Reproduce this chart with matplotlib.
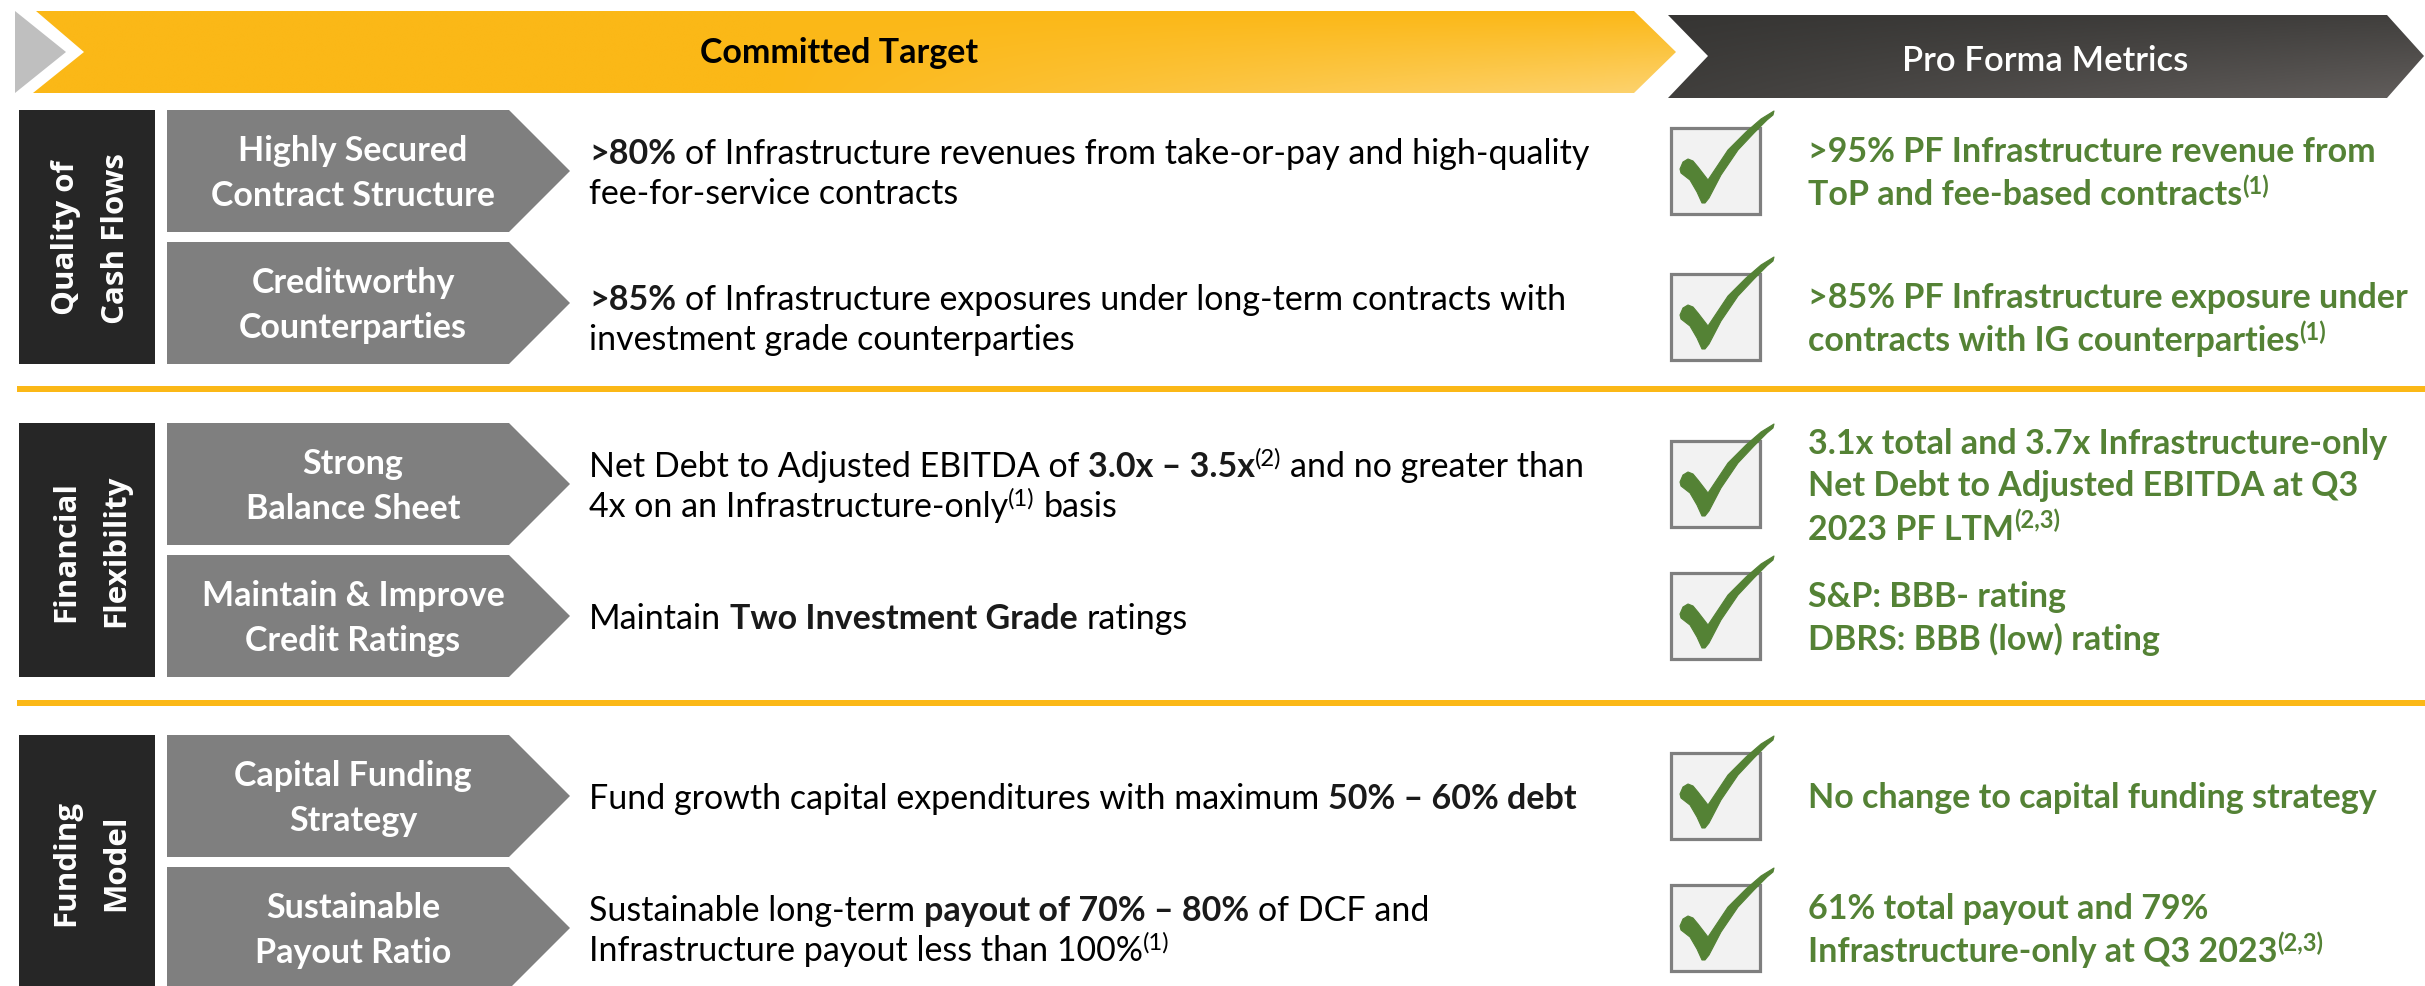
import matplotlib
matplotlib.use('Agg')

import matplotlib.pyplot as plt
from matplotlib.patches import Polygon, Rectangle
from matplotlib.colors import to_rgb
import numpy as np

W, H = 2425, 987
FONT = 'Lato'
SEC_FONT = 'Open Sans'

header_left = "Committed Target"
header_right = "Pro Forma Metrics"

sections = [["Quality of", "Cash Flows"],
            ["Financial", "Flexibility"],
            ["Funding", "Model"]]

pillars = [["Highly Secured", "Contract Structure"],
           ["Creditworthy", "Counterparties"],
           ["Strong", "Balance Sheet"],
           ["Maintain & Improve", "Credit Ratings"],
           ["Capital Funding", "Strategy"],
           ["Sustainable", "Payout Ratio"]]

# runs: (text, style)  n = regular, b = bold, s = superscript
targets = [
    [[(">80%", "b"), (" of Infrastructure revenues from take-or-pay and high-quality", "n")],
     [("fee-for-service contracts", "n")]],
    [[(">85%", "b"), (" of Infrastructure exposures under long-term contracts with", "n")],
     [("investment grade counterparties", "n")]],
    [[("Net Debt to Adjusted EBITDA of ", "n"), ("3.0x \u2013 3.5x", "b"), ("(2)", "s"), (" and no greater than", "n")],
     [("4x on an Infrastructure-only", "n"), ("(1)", "s"), (" basis", "n")]],
    [[("Maintain ", "n"), ("Two Investment Grade", "b"), (" ratings", "n")]],
    [[("Fund growth capital expenditures with maximum ", "n"), ("50% \u2013 60% debt", "b")]],
    [[("Sustainable long-term ", "n"), ("payout of 70% \u2013 80%", "b"), (" of DCF and", "n")],
     [("Infrastructure payout less than 100%", "n"), ("(1)", "s")]],
]

metrics = [
    [[(">95% PF Infrastructure revenue from", "n")],
     [("ToP and fee-based contracts", "n"), ("(1)", "s")]],
    [[(">85% PF Infrastructure exposure under", "n")],
     [("contracts with IG counterparties", "n"), ("(1)", "s")]],
    [[("3.1x total and 3.7x Infrastructure-only", "n")],
     [("Net Debt to Adjusted EBITDA at Q3", "n")],
     [("2023 PF LTM", "n"), ("(2,3)", "s")]],
    [[("S&P: BBB- rating", "n")],
     [("DBRS: BBB (low) rating", "n")]],
    [[("No change to capital funding strategy", "n")]],
    [[("61% total payout and 79%", "n")],
     [("Infrastructure-only at Q3 2023", "n"), ("(2,3)", "s")]],
]

YEL = '#FBB817'
GREEN = '#548235'
DARK = '#262626'
GREY = '#7F7F7F'

fig = plt.figure(figsize=(W / 100, H / 100), dpi=100)
ax = fig.add_axes([0, 0, 1, 1])
ax.set_xlim(0, W)
ax.set_ylim(H, 0)
ax.axis('off')
renderer = fig.canvas.get_renderer()

PX = 100 / 72.0


def text_w(s, size, weight):
    t = ax.text(0, 0, s, fontsize=size, weight=weight, family=FONT)
    w = t.get_window_extent(renderer).width
    t.remove()
    return w


def draw_runs(x, y, runs, size, color, bold_all=False, bold_color=None):
    for s, st in runs:
        weight = 'bold' if (bold_all or st == 'b') else 'normal'
        fs = size * 0.7 if st == 's' else size
        yy = y - size * PX * 0.33 if st == 's' else y
        c = bold_color if (st == 'b' and bold_color) else color
        sw = text_w("a a", fs, weight) - text_w("aa", fs, weight)
        lead = len(s) - len(s.lstrip(' '))
        trail = len(s) - len(s.rstrip(' '))
        x += lead * sw
        core = s.strip(' ')
        if core:
            t = ax.text(x, yy, core, fontsize=fs, weight=weight, family=FONT,
                        color=c, ha='left', va='baseline')
            x += t.get_window_extent(renderer).width
        x += trail * sw
    return x


def gradient_poly(points, c0, c1, tfunc, zorder=1):
    patch = Polygon(points, closed=True, facecolor='none', edgecolor='none', zorder=zorder)
    ax.add_patch(patch)
    xs = [p[0] for p in points]
    ys = [p[1] for p in points]
    x0, x1, y0, y1 = min(xs), max(xs), min(ys), max(ys)
    gx = np.linspace(0, 1, 600)[None, :]
    gy = np.linspace(0, 1, 80)[:, None]
    t = np.clip(tfunc(gx, gy), 0, 1)
    a, b = np.array(to_rgb(c0)), np.array(to_rgb(c1))
    img = (1 - t)[..., None] * a + t[..., None] * b
    im = ax.imshow(img, extent=(x0, x1, y1, y0), origin='upper', aspect='auto',
                   interpolation='bilinear', zorder=zorder)
    im.set_clip_path(patch)


# ---- header banner
ax.add_patch(Polygon([(15, 12), (66, 53), (15, 94)], closed=True,
                     facecolor='#BFBFBF', edgecolor='none'))
gradient_poly([(36, 12), (1634, 12), (1676, 53), (1634, 94), (33, 94), (84, 53)],
              YEL, '#FDD67A', lambda gx, gy: np.clip((gx - 0.45) / 0.55, 0, 1) * gy * 0.9)
gradient_poly([(1668, 16), (2387, 16), (2424, 57), (2387, 99), (1668, 99), (1708, 57)],
              '#363533', '#625E5C', lambda gx, gy: 0.25 * gx + 0.75 * gy * (0.3 + 0.7 * gx))
ax.text(839, 63, header_left, fontsize=24.5, weight='bold', family=FONT,
        color='black', ha='center', va='baseline')
ax.text(2045, 71, header_right, fontsize=25, weight='semibold', family=FONT,
        color='white', ha='center', va='baseline')

# ---- layout
sec_tops = [111, 424, 736]
ROW_H, ROW_GAP = 122, 10
row_offsets = [0, 14, 0, 0, 0, 0]
rows = []
for top in sec_tops:
    rows.append((top, top + ROW_H))
    rows.append((top + ROW_H + ROW_GAP, top + 2 * ROW_H + ROW_GAP))

for y in (390, 704):
    ax.plot([17, W], [y, y], color=YEL, lw=6 * 0.72, solid_capstyle='butt', zorder=2)

# section boxes with rotated labels
for k, lines in enumerate(sections):
    top = rows[2 * k][0]
    bot = rows[2 * k + 1][1]
    ax.add_patch(Rectangle((19, top), 136, bot - top, facecolor=DARK, edgecolor='none'))
    cy = (top + bot) / 2
    for j, ln in enumerate(lines):
        ax.text(74 + j * 50, cy, ln, rotation=90, rotation_mode='anchor',
                ha='center', va='baseline', fontsize=22.5, weight='bold',
                family=SEC_FONT, color='white')

# pillar chevrons
for i, (top, bot) in enumerate(rows):
    cy = (top + bot) / 2
    ax.add_patch(Polygon([(167, top), (509, top), (570, cy), (509, bot), (167, bot)],
                         closed=True, facecolor=GREY, edgecolor='none'))
    lines = pillars[i]
    n = len(lines)
    for j, ln in enumerate(lines):
        by = cy + 11.5 - (n - 1) * 45 / 2 + j * 45
        ax.text(353, by, ln, fontsize=24.5, weight='bold', family=FONT,
                color='white', ha='center', va='baseline')

# committed target text
for i, (top, bot) in enumerate(rows):
    cy = (top + bot) / 2 + row_offsets[i]
    lines = targets[i]
    n = len(lines)
    for j, runs in enumerate(lines):
        by = cy + 12 - (n - 1) * 40 / 2 + j * 40
        draw_runs(589, by, runs, 24.5, 'black', bold_color='#1A1A1A')

# check boxes and metrics
check = np.array([(9, 41), (12, 34), (17, 31), (22, 33), (27, 39), (37, 52),
                  (47, 37), (57, 22), (75, 4), (90, -9), (103, -17),
                  (102, -13), (96, -8), (83, 5), (67, 22), (50, 47), (38, 70),
                  (34, 75), (31, 75), (26, 64), (19, 52), (10, 45)], float)
for i, (top, bot) in enumerate(rows):
    cy = (top + bot) / 2 + row_offsets[i]
    bx, by0 = 1671, cy - 43
    ax.add_patch(Rectangle((bx, by0), 89, 86, facecolor='#F2F2F2',
                           edgecolor='#7F7F7F', lw=2.3, zorder=3))
    ax.add_patch(Polygon(check + [bx, by0], closed=True, facecolor=GREEN,
                         edgecolor=GREEN, lw=0.8, joinstyle='round', zorder=4))
    lines = metrics[i]
    n = len(lines)
    for j, runs in enumerate(lines):
        by = cy + 11.5 - (n - 1) * 43 / 2 + j * 43
        draw_runs(1808, by, runs, 24.5, GREEN, bold_all=True)

ax.set_xlim(0, W)
ax.set_ylim(H, 0)
fig.savefig('out.png', dpi=100, facecolor='white')
